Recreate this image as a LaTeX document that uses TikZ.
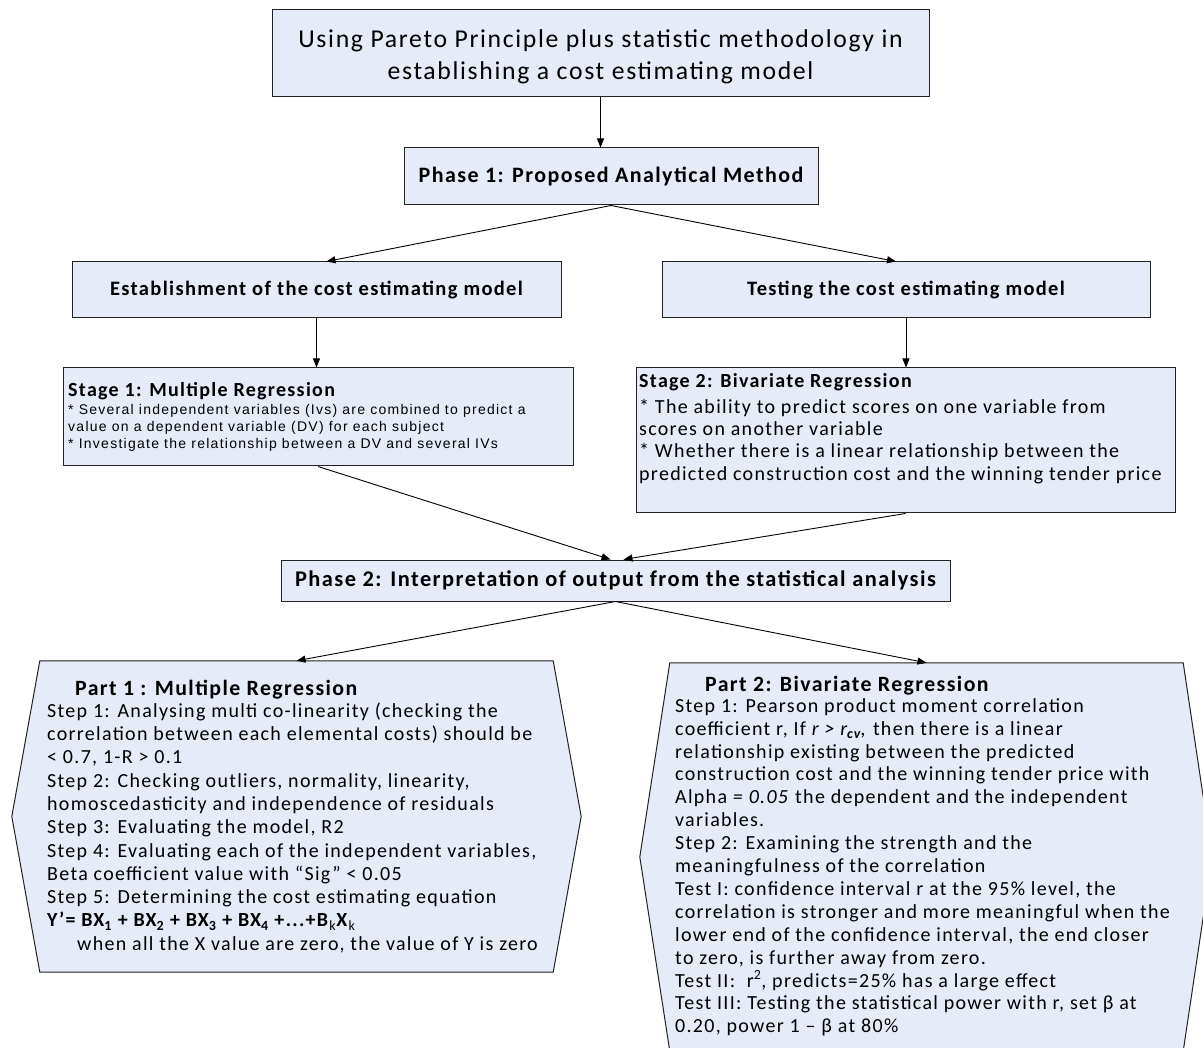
\documentclass[tikz,border=0pt]{standalone}
\usepackage{fontspec}
\setmainfont{Carlito}[LetterSpace=6.5]
\newfontfamily\arialfont{Liberation Sans}[LetterSpace=9]
\usetikzlibrary{arrows.meta,calc}
\definecolor{boxfill}{RGB}{229,235,247}
\definecolor{edgecol}{RGB}{35,35,35}
\begin{document}
\begin{tikzpicture}[x=1pt,y=-1pt,
  box/.style={draw=edgecol, fill=boxfill, line width=1pt, inner sep=0pt, align=center},
  ghost/.style={inner sep=0pt},
  arr/.style={draw=black, line width=0.9pt, -{Triangle[length=9pt,width=7pt]}},
  txt/.style={inner sep=0pt, align=left, anchor=north west},
  hd/.style={inner sep=0pt, anchor=base west, font=\fontsize{20}{24}\selectfont\bfseries}]
\useasboundingbox (0,0) rectangle (1203,1048);
\fill[white] (0,0) rectangle (1203,1048);

% top boxes
\node[box, minimum width=657pt, minimum height=87pt, font=\fontsize{25.7}{32}\selectfont] (title) at (600.5,53.5)
  {\rule{0pt}{24pt}Using Pareto Principle plus statistic methodology in\\establishing a cost estimating model};
\node[box, minimum width=414pt, minimum height=57pt, font=\fontsize{22}{25}\selectfont\bfseries] (ph1) at (611,176.5)
  {Phase 1: Proposed Analytical Method};
\node[box, minimum width=489pt, minimum height=56pt, font=\fontsize{20.5}{24}\selectfont\bfseries] (est) at (316.5,290)
  {Establishment of the cost estimating model};
\node[box, minimum width=488pt, minimum height=56pt, font=\fontsize{20.5}{24}\selectfont\bfseries] (tst) at (906,290)
  {Testing the cost estimating model};

% stage boxes
\node[box, minimum width=510pt, minimum height=98pt] (st1) at (318,417) {};
\node[hd] (st1h) at (68,397) {Stage 1: Multiple Regression};
\node[txt, font=\fontsize{14}{17}\selectfont\arialfont] (st1b) at (68,402.1)
  {\strut* Several independent variables (Ivs) are combined to predict a\\
   value on a dependent variable (DV) for each subject\\
   * Investigate the relationship between a DV and several IVs};

\node[box, minimum width=539pt, minimum height=145pt] (st2) at (905.5,440.5) {};
\node[hd] (st2h) at (639,387.5) {Stage 2: Bivariate Regression};
\node[txt, font=\fontsize{20}{22.4}\selectfont] (st2b) at (639,397.3)
  {\strut* The ability to predict scores on one variable from\\
   scores on another variable\\
   * Whether there is a linear relationship between the\\
   predicted construction cost and the winning tender price};

% phase 2
\node[box, minimum width=669pt, minimum height=41pt, font=\fontsize{22.4}{25}\selectfont\bfseries] (ph2) at (615.5,580.5)
  {Phase 2: Interpretation of output from the statistical analysis};

% part 1 hexagon
\node[ghost, minimum width=513pt, minimum height=311pt] (pt1) at (296.5,816.5) {};
\draw[draw=edgecol, fill=boxfill, line width=1pt]
  (pt1.north west) -- (pt1.north east) -- ([xshift=28pt]pt1.east) -- (pt1.south east)
  -- (pt1.south west) -- ([xshift=-28pt]pt1.west) -- cycle;
\node[hd, font=\fontsize{21.8}{24}\selectfont\bfseries] (pt1h) at (75,695) {Part 1 : Multiple Regression};
\node[txt, font=\fontsize{20}{23.3}\selectfont] (pt1b) at (47,700.7)
  {\strut Step 1: Analysing multi co-linearity (checking the\\
   correlation between each elemental costs) should be\\
   < 0.7, 1-R > 0.1\\
   Step 2: Checking outliers, normality, linearity,\\
   homoscedasticity and independence of residuals\\
   Step 3: Evaluating the model, R2\\
   Step 4: Evaluating each of the independent variables,\\
   Beta coefficient value with “Sig” < 0.05\\
   Step 5: Determining the cost estimating equation\\
   \textbf{Y’= BX\textsubscript{1} + BX\textsubscript{2} + BX\textsubscript{3} + BX\textsubscript{4} +...+B}\textsubscript{k}\textbf{X}\textsubscript{k}\\
   \hspace*{30pt}when all the X value are zero, the value of Y is zero};

% part 2 hexagon
\node[ghost, minimum width=513pt, minimum height=388pt] (pt2) at (926.5,857) {};
\draw[draw=edgecol, fill=boxfill, line width=1pt]
  (pt2.north west) -- (pt2.north east) -- ([xshift=29pt]pt2.east) -- (pt2.south east)
  -- (pt2.south west) -- ([xshift=-30pt]pt2.west) -- cycle;
\node[hd, font=\fontsize{21.8}{24}\selectfont\bfseries] (pt2h) at (705,691) {Part 2: Bivariate Regression};
\node[txt, font=\fontsize{20}{22.9}\selectfont] (pt2b) at (675,696)
  {\strut Step 1: Pearson product moment correlation\\
   coefficient r, If \textit{r > r\textsubscript{\textbf{cv}},} then there is a linear\\
   relationship existing between the predicted\\
   construction cost and the winning tender price with\\
   Alpha \textit{= 0.05} the dependent and the independent\\
   variables.\\
   Step 2: Examining the strength and the\\
   meaningfulness of the correlation\\
   Test I: confidence interval r at the 95\% level, the\\
   correlation is stronger and more meaningful when the\\
   lower end of the confidence interval, the end closer\\
   to zero, is further away from zero.\\
   Test II:\ \ r\textsuperscript{2}, predicts=25\% has a large effect\\
   Test III: Testing the statistical power with r, set β at\\
   0.20, power 1 – β at 80\%};

% connectors
\draw[arr] (title.south) -- (ph1.north -| title.south);
\draw[arr] (ph1.south) -- ($(est.north)+(10,0)$);
\draw[arr] (ph1.south) -- ($(tst.north)+(-10,0)$);
\draw[arr] (est.south) -- (est.south |- st1.north);
\draw[arr] (tst.south) -- (tst.south |- st2.north);
\draw[arr] (st1.south) -- ($(ph2.north)+(-5,0)$);
\draw[arr] (st2.south) -- ($(ph2.north)+(8,0)$);
\draw[arr] (ph2.south) -- (pt1.north);
\draw[arr] (ph2.south) -- (pt2.north);
\end{tikzpicture}
\end{document}
